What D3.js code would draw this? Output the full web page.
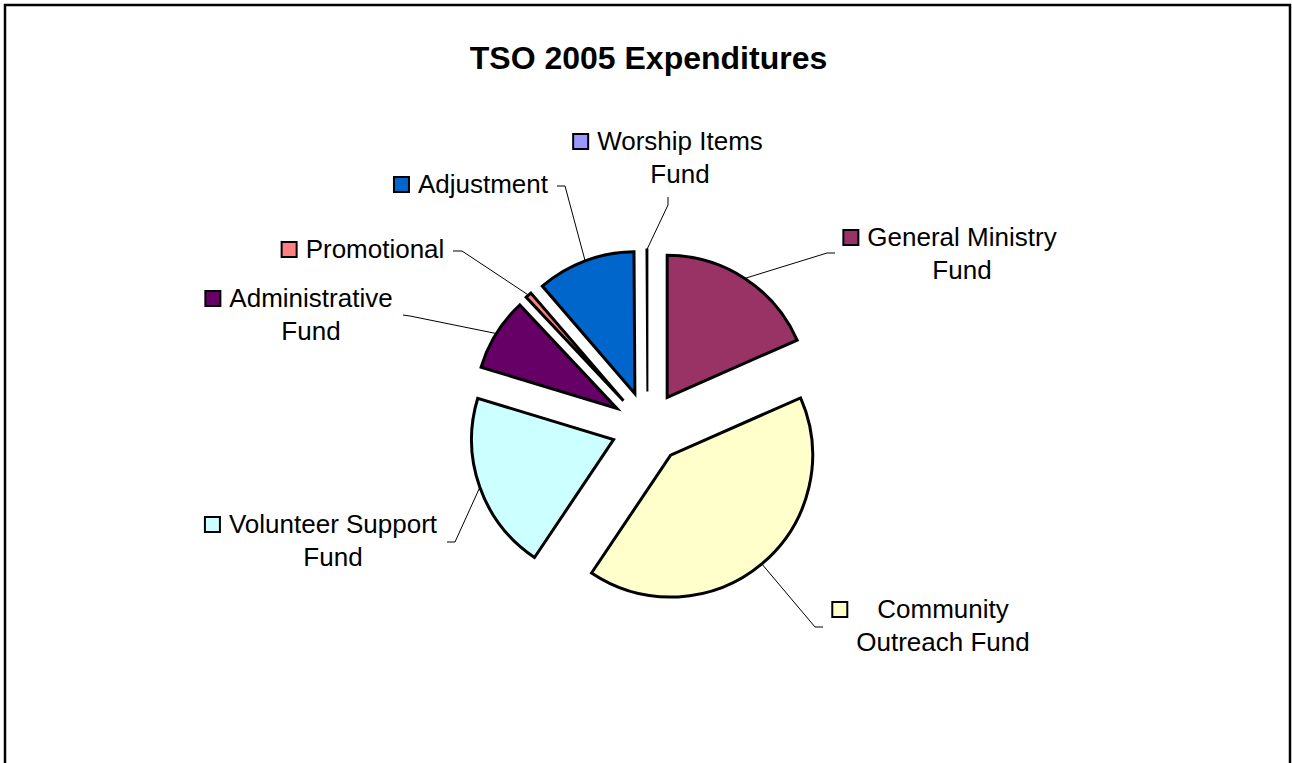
<!DOCTYPE html>
<html>
<head>
  <title>TSO 2005 Expenditures</title>
  <script src="https://d3js.org/d3.v7.min.js"></script>
  <style>
    body { margin: 0; background: #fff; }
    text { font-family: "Liberation Sans", Arial, sans-serif; fill: #000; }
  </style>
</head>
<body>
  <div id="chart"></div>
  <script>
    // data (share of total, %)
    const categories = ["General Ministry Fund", "Community Outreach Fund", "Volunteer Support Fund",
                        "Administrative Fund", "Promotional", "Adjustment", "Worship Items Fund"];
    const values = [18.4, 41.0, 20.3, 8.3, 0.7, 11.2, 0.1];
    const colors = ["#993366", "#FFFFCC", "#CCFFFF", "#660066", "#FF8080", "#0066CC", "#9999FF"];
    const labelLines = [
      ["General Ministry", "Fund"],
      ["Community", "Outreach Fund"],
      ["Volunteer Support", "Fund"],
      ["Administrative", "Fund"],
      ["Promotional"],
      ["Adjustment"],
      ["Worship Items", "Fund"]
    ];

    // label layout: text centre x, first baseline, leader line start + elbow
    const labelPos = [
      { x: 962, y: 246, p0: [835, 253], p1: [827, 253] },
      { x: 943, y: 618, p0: [823, 627], p1: [815, 627] },
      { x: 333, y: 533, p0: [447, 542], p1: [455, 542] },
      { x: 311, y: 307, p0: [403, 315], p1: [410, 316] },
      { x: 375, y: 258, p0: [453, 251], p1: [462, 251] },
      { x: 483, y: 193, p0: [557, 186], p1: [565, 186] },
      { x: 680, y: 150, p0: [668, 197], p1: [668, 205] }
    ];

    const W = 1292, H = 763;
    const cx = 647.5, cy = 427.5, radius = 142, explode = 36;

    const svg = d3.select("#chart").append("svg")
      .attr("width", W).attr("height", H);

    svg.append("rect")
      .attr("x", 5).attr("y", 5)
      .attr("width", 1285).attr("height", 820)
      .attr("fill", "#fff").attr("stroke", "#000").attr("stroke-width", 2.5);

    svg.append("text")
      .attr("x", 648.5).attr("y", 69)
      .attr("text-anchor", "middle")
      .style("font-size", "32px").style("font-weight", "bold")
      .text("TSO 2005 Expenditures");

    const pie = d3.pie().sort(null).value(d => d)(values);
    const arc = d3.arc().innerRadius(0).outerRadius(radius);

    const g = svg.append("g").attr("transform", "translate(" + cx + "," + cy + ")");

    function offset(d) {
      const a = (d.startAngle + d.endAngle) / 2;
      return [explode * Math.sin(a), -explode * Math.cos(a)];
    }

    g.selectAll(".slice")
      .data(pie)
      .enter()
      .append("path")
      .attr("class", "slice")
      .attr("transform", d => "translate(" + offset(d) + ")")
      .attr("d", arc)
      .attr("fill", (d, i) => colors[i])
      .attr("stroke", "#000")
      .attr("stroke-width", (d, i) => values[i] < 0.5 ? 2 : 3)
      .attr("stroke-linejoin", "miter");

    // leader lines
    pie.forEach((d, i) => {
      const a = (d.startAngle + d.endAngle) / 2;
      const o = offset(d);
      const ex = cx + o[0] + radius * Math.sin(a);
      const ey = cy + o[1] - radius * Math.cos(a);
      const lp = labelPos[i];
      svg.append("path")
        .attr("d", d3.line()([lp.p0, lp.p1, [ex, ey]]))
        .attr("fill", "none")
        .attr("stroke", "#000")
        .attr("stroke-width", 1);
    });

    // labels with legend keys
    labelLines.forEach((lines, i) => {
      const lp = labelPos[i];
      const lg = svg.append("g");
      let maxW = 0;
      lines.forEach((s, j) => {
        const t = lg.append("text")
          .attr("x", lp.x).attr("y", lp.y + j * 33)
          .attr("text-anchor", "middle")
          .style("font-size", "26px")
          .text(s);
        maxW = Math.max(maxW, t.node().getComputedTextLength());
      });
      lg.append("rect")
        .attr("x", lp.x - maxW / 2 - 8 - 16)
        .attr("y", lp.y - 16)
        .attr("width", 15).attr("height", 15)
        .attr("fill", colors[i])
        .attr("stroke", "#000").attr("stroke-width", 2);
    });
  </script>
</body>
</html>
